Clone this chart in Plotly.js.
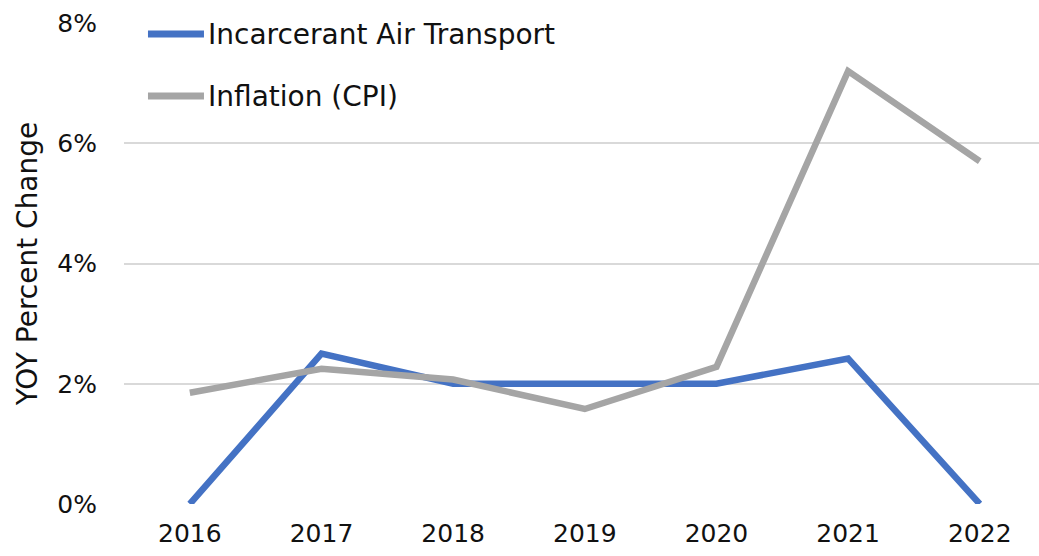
<!DOCTYPE html>
<html>
<head>
<meta charset="utf-8">
<script src="https://cdn.plot.ly/plotly-3.0.1.min.js"></script>
<style>html,body{margin:0;padding:0;background:#fff;}#chart{width:1039px;height:556px;}</style>
</head>
<body>
<div id="chart"></div>
<script>
const years = ['2016','2017','2018','2019','2020','2021','2022'];
const seriesNames = ['Incarcerant Air Transport', 'Inflation (CPI)'];
const incarcerant = [0.0, 2.5, 2.0, 2.0, 2.0, 2.42, 0.0];
const cpi = [1.85, 2.25, 2.07, 1.58, 2.28, 7.2, 5.7];
const yTickVals = [0, 2, 4, 6, 8];
const yTickText = ['0%', '2%', '4%', '6%', '8%'];
const colors = ['#4472C4', '#A5A5A5'];

const FONT = 'DejaVu Sans, sans-serif';
const traces = [incarcerant, cpi].map((vals, i) => ({
  x: years, y: vals, type: 'scatter', mode: 'lines', name: seriesNames[i],
  line: {color: colors[i], width: 6.5}, showlegend: false, hoverinfo: 'skip'
}));

// custom legend (paper coords)
const legendRows = [0.977, 0.848];
const shapes = [{
  type: 'rect', xref: 'paper', yref: 'paper', x0: 0.015, x1: 0.485, y0: 0.80, y1: 1.02,
  fillcolor: '#fff', line: {width: 0}, layer: 'between'
}];
const annotations = [];
seriesNames.forEach((n, i) => {
  shapes.push({type: 'line', xref: 'paper', yref: 'paper', x0: 0.0262, x1: 0.0874,
    y0: legendRows[i], y1: legendRows[i], line: {color: colors[i], width: 7}, layer: 'above'});
  annotations.push({xref: 'paper', yref: 'paper', x: 0.0896, y: legendRows[i], xanchor: 'left',
    yanchor: 'middle', text: n, showarrow: false, font: {family: FONT, size: 28, color: '#111'}});
});

const layout = {
  width: 1039, height: 556,
  margin: {l: 124, r: 0, t: 23, b: 52},
  paper_bgcolor: '#fff', plot_bgcolor: '#fff',
  font: {family: FONT, size: 25, color: '#111'},
  xaxis: {type: 'category', range: [-0.5, 6.45], showgrid: false, zeroline: false,
    showline: false, ticks: '', tickfont: {size: 25}, ticklabelstandoff: 12},
  yaxis: {range: [0, 8], tickvals: yTickVals, ticktext: yTickText, showgrid: true,
    gridcolor: '#D9D9D9', gridwidth: 2, zeroline: false, showline: false, ticks: '',
    tickfont: {size: 25}, ticklabelstandoff: 26,
    title: {text: 'YOY Percent Change', font: {size: 28}, standoff: 11}},
  shapes: shapes, annotations: annotations
};
Plotly.newPlot('chart', traces, layout, {displayModeBar: false, staticPlot: true});
</script>
</body>
</html>
